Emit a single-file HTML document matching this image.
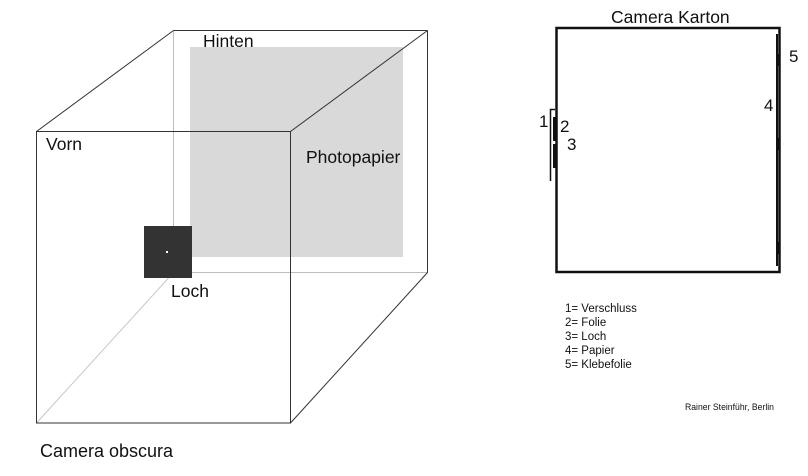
<!DOCTYPE html>
<html><head><style>
html,body{margin:0;padding:0;background:#fff;}
svg{display:block;}
text{font-family:"Liberation Sans",sans-serif;fill:#111;}
</style></head><body>
<svg width="808" height="476" viewBox="0 0 808 476" xmlns="http://www.w3.org/2000/svg">
<rect x="190" y="47" width="213" height="210" fill="#d9d9d9"/>
<rect x="173.5" y="30.5" width="254" height="242" fill="none" stroke="#bdbdbd" stroke-width="1"/>
<line x1="173.5" y1="272.5" x2="36.5" y2="423" stroke="#c8c8c8" stroke-width="1"/>
<line x1="173.5" y1="30.5" x2="36.5" y2="131.5" stroke="#333" stroke-width="1"/>
<line x1="427.5" y1="30.5" x2="290.5" y2="131.5" stroke="#333" stroke-width="1"/>
<line x1="427.5" y1="272.5" x2="290.5" y2="423" stroke="#333" stroke-width="1"/>
<line x1="427.5" y1="30.5" x2="173.5" y2="30.5" stroke="#333" stroke-width="1"/>
<line x1="427.5" y1="30.5" x2="427.5" y2="272.5" stroke="#333" stroke-width="1"/>
<rect x="36.5" y="131.5" width="254" height="291.5" fill="none" stroke="#333" stroke-width="1"/>
<rect x="144" y="226" width="48" height="52" fill="#333"/>
<rect x="166" y="251" width="2" height="2" fill="#fff"/>
<text x="203" y="47" font-size="17.5">Hinten</text>
<text x="46" y="150" font-size="17.5">Vorn</text>
<text x="306" y="163" font-size="17.5">Photopapier</text>
<text x="171" y="297" font-size="17.5">Loch</text>
<text x="40" y="457" font-size="18">Camera obscura</text>

<text x="611" y="23" font-size="17.5">Camera Karton</text>
<rect x="556.5" y="28" width="223" height="244" fill="none" stroke="#111" stroke-width="2.5"/>
<line x1="777" y1="34" x2="777" y2="266" stroke="#111" stroke-width="2"/>
<rect x="776" y="54" width="4.5" height="12" fill="#111"/>
<rect x="776" y="138" width="4.5" height="12" fill="#111"/>
<rect x="776" y="242" width="4.5" height="12" fill="#111"/>
<polyline points="555,109.5 550.5,109.5 550.5,181" fill="none" stroke="#111" stroke-width="1.5"/>
<rect x="553" y="117" width="4" height="24" fill="#111"/>
<rect x="553" y="144" width="4" height="24" fill="#111"/>
<text x="539" y="127" font-size="17">1</text>
<text x="560" y="132" font-size="17">2</text>
<text x="567" y="150" font-size="17">3</text>
<text x="764" y="111" font-size="17">4</text>
<text x="789" y="62" font-size="17">5</text>
<g font-size="11.5">
<text x="565" y="312">1= Verschluss</text>
<text x="565" y="326">2= Folie</text>
<text x="565" y="340">3= Loch</text>
<text x="565" y="354">4= Papier</text>
<text x="565" y="368">5= Klebefolie</text>
</g>
<text x="685" y="410" font-size="9" textLength="89" lengthAdjust="spacingAndGlyphs">Rainer Steinführ, Berlin</text>
</svg>
</body></html>
